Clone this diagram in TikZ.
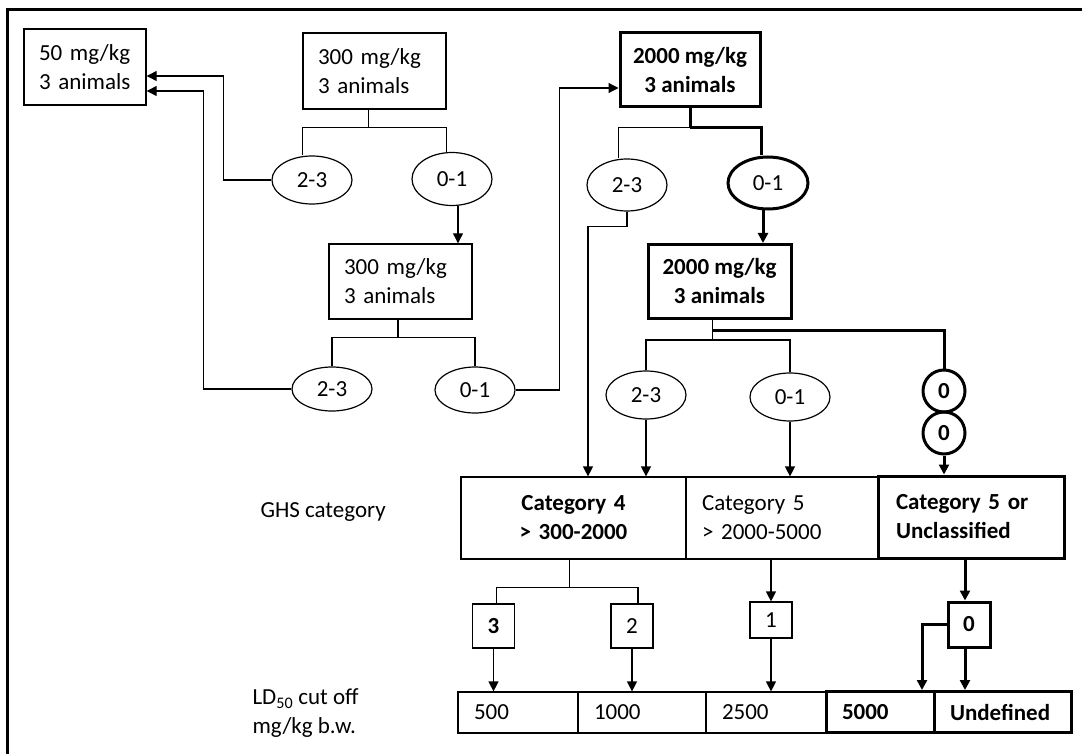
\documentclass[tikz,border=0pt]{standalone}
\usepackage{fontspec}
\setmainfont{Carlito}
\usetikzlibrary{arrows.meta,positioning,shapes.geometric}

\newcommand{\dfont}{\fontsize{23}{29}\selectfont}

\begin{document}
\begin{tikzpicture}[
  x=1pt, y=-1pt,
  >={Triangle[length=10pt,width=10pt]},
  every node/.style={font=\dfont},
  box/.style={draw, line width=1.4pt, inner xsep=15pt, inner ysep=0pt, minimum height=76pt, align=left},
  boldbox/.style={draw, line width=3pt, minimum height=74pt, align=center, font=\dfont\bfseries},
  res/.style={draw, ellipse, line width=1.2pt, minimum width=80pt, minimum height=48pt, inner sep=0pt},
  resbold/.style={res, line width=3pt},
  zero/.style={draw, circle, line width=3pt, minimum size=42pt, inner sep=0pt, font=\dfont\bfseries},
  cell/.style={draw, line width=1.2pt, minimum height=41pt, inner xsep=16pt, inner ysep=0pt, align=left},
  catcell/.style={cell, minimum height=82pt},
  num/.style={draw, line width=1.2pt, minimum width=42pt, minimum height=44pt, inner sep=0pt},
  link/.style={line width=1.2pt},
  arr/.style={link, ->},
  tlink/.style={line width=3pt},
  tarr/.style={tlink, ->},
]
  \useasboundingbox (0,0) rectangle (1082,754);
  \draw[line width=3pt] (1082,10) -- (7,10) -- (7,754);

  % ---------- dosing steps ----------
  \node[box, text width=92pt]  (b50)   at (85,67)      {50 mg/kg\\3 animals};
  \node[box, text width=113pt] (b300a) at (374.5,71)   {300 mg/kg\\3 animals};
  \node[box, text width=113pt, minimum height=75pt] (b300b) at (400.5,281.5) {300 mg/kg\\3 animals};
  \node[boldbox, minimum width=140pt] (b2000a) at (690,70)      {2000 mg/kg\\3 animals};
  \node[boldbox, minimum width=143pt] (b2000b) at (719.5,281.5) {2000 mg/kg\\3 animals};

  % ---------- outcomes (dead animals) ----------
  \node[res]                     (e23a) at (312,180) {2-3};
  \node[res, minimum height=53pt] (e01a) at (452,179) {0-1};
  \node[res, minimum height=44pt] (e23b) at (332,389) {2-3};
  \node[res, minimum height=46pt] (e01b) at (475,390) {0-1};
  \node[res, minimum height=52pt] (e23c) at (627,185) {2-3};
  \node[resbold, minimum height=52pt] (e01c) at (768,183) {0-1};
  \node[res]                     (e23d) at (646,395) {2-3};
  \node[res]                     (e01d) at (790,397) {0-1};
  \node[zero]                    (z1)   at (944,391) {0};
  \node[zero]                    (z2)   at (944,433) {0};

  % ---------- GHS category row ----------
  \node[anchor=west] (ghs) at (257,512) {GHS category};
  \node[catcell, text width=193pt, align=center, font=\dfont\bfseries] (cat4) at (573.5,518) {Category 4\\> 300-2000};
  \node[catcell, text width=160pt] (cat5) at (782,518) {Category 5\\> 2000-5000};
  \node[catcell, line width=3pt, inner xsep=18pt, text width=150pt, font=\dfont\bfseries] (catU) at (971,517) {Category 5 or\\Unclassified};

  % ---------- number of animals ----------
  \node[num, font=\dfont\bfseries] (n3) at (493.5,626) {3};
  \node[num]                      (n2) at (632,626)   {2};
  \node[num, minimum height=36pt] (n1) at (771,620)   {1};
  \node[num, line width=3pt, minimum height=45pt, font=\dfont\bfseries] (n0) at (969,624.5) {0};

  % ---------- LD50 cut off row ----------
  \node[anchor=west, align=left] (ld) at (249,713) {LD\textsubscript{50} cut off\\mg/kg b.w.};
  \node[cell, text width=88pt]  (c500)  at (518,712.5)  {500};
  \node[cell, text width=96pt]  (c1000) at (642,712.5)  {1000};
  \node[cell, text width=88pt]  (c2500) at (766,712.5)  {2500};
  \node[cell, line width=3pt, text width=76pt, font=\dfont\bfseries]  (c5000) at (880,712)    {5000};
  \node[cell, line width=3pt, text width=105pt, font=\dfont\bfseries] (cUnd)  at (1002.5,712) {Undefined};

  % ---------- connectors ----------
  \draw[link] ([xshift=-6pt]b300a.south) -- ++(0,18) coordinate (s1);
  \draw[link] (e23a.north -| b300a.west) |- (s1) -| (e01a.north -| b300a.east);
  \draw[arr] (e23a.west) -- ++(-48,0) |- ([yshift=-9pt]b50.east);
  \draw[arr] ([xshift=6pt]e01a.south) -- ([xshift=6pt]e01a.south |- b300b.north);

  \draw[link] ([xshift=-2.5pt]b300b.south) -- ++(0,18) coordinate (s2);
  \draw[link] (e23b.north) |- (s2) -| (e01b.north);
  \draw[arr] (e23b.west) -- ++(-88,0) |- ([yshift=-24pt]b50.east);
  \draw[arr] (e01b.east) -- ++(44,0) |- ([yshift=-18pt]b2000a.west);

  \draw[tlink] (b2000a.south) -- ++(0,19) coordinate (s3);
  \draw[link] (e23c.north -| b2000a.west) |- (s3);
  \draw[tlink] (s3) -| (e01c.north -| b2000a.east);
  \draw[arr] (e23c.south) -- ++(0,15) -| ([xshift=-39pt]e23c.south |- cat4.north);
  \draw[tarr] ([xshift=-5pt]e01c.south) -- ([xshift=-5pt]e01c.south |- b2000b.north);

  \draw[link] ([xshift=-7pt]b2000b.south) -- ++(0,20) coordinate (s4);
  \draw[link] (e23d.north) |- (s4) -| (e01d.north);
  \draw[tlink] ([shift={(-7,10)}]b2000b.south) -| (z1.north);
  \draw[arr] (e23d.south) -- (e23d.south |- cat4.north);
  \draw[arr] (e01d.south) -- (e01d.south |- cat5.north);
  \draw[tarr] (z2.south) -- (z2.south |- catU.north);

  \draw[link] ([xshift=-4pt]cat4.south) -- ++(0,28) coordinate (s5);
  \draw[link] ([xshift=3pt]n3.north) |- (s5) -| ([xshift=6pt]n2.north);
  \draw[arr] (n1.north |- cat5.south) -- (n1.north);
  \draw[tarr] ([xshift=-4pt]n0.north |- catU.south) -- ([xshift=-4pt]n0.north);

  \draw[arr] (n3.south) -- (n3.south |- c500.north);
  \draw[arr] (n2.south) -- (n2.south |- c1000.north);
  \draw[arr] (n1.south) -- (n1.south |- c2500.north);
  \draw[tarr] (n0.west) -| ([xshift=42pt]c5000.north);
  \draw[tarr] ([xshift=-4pt]n0.south) -- ([xshift=-4pt]n0.south |- cUnd.north);
\end{tikzpicture}
\end{document}
